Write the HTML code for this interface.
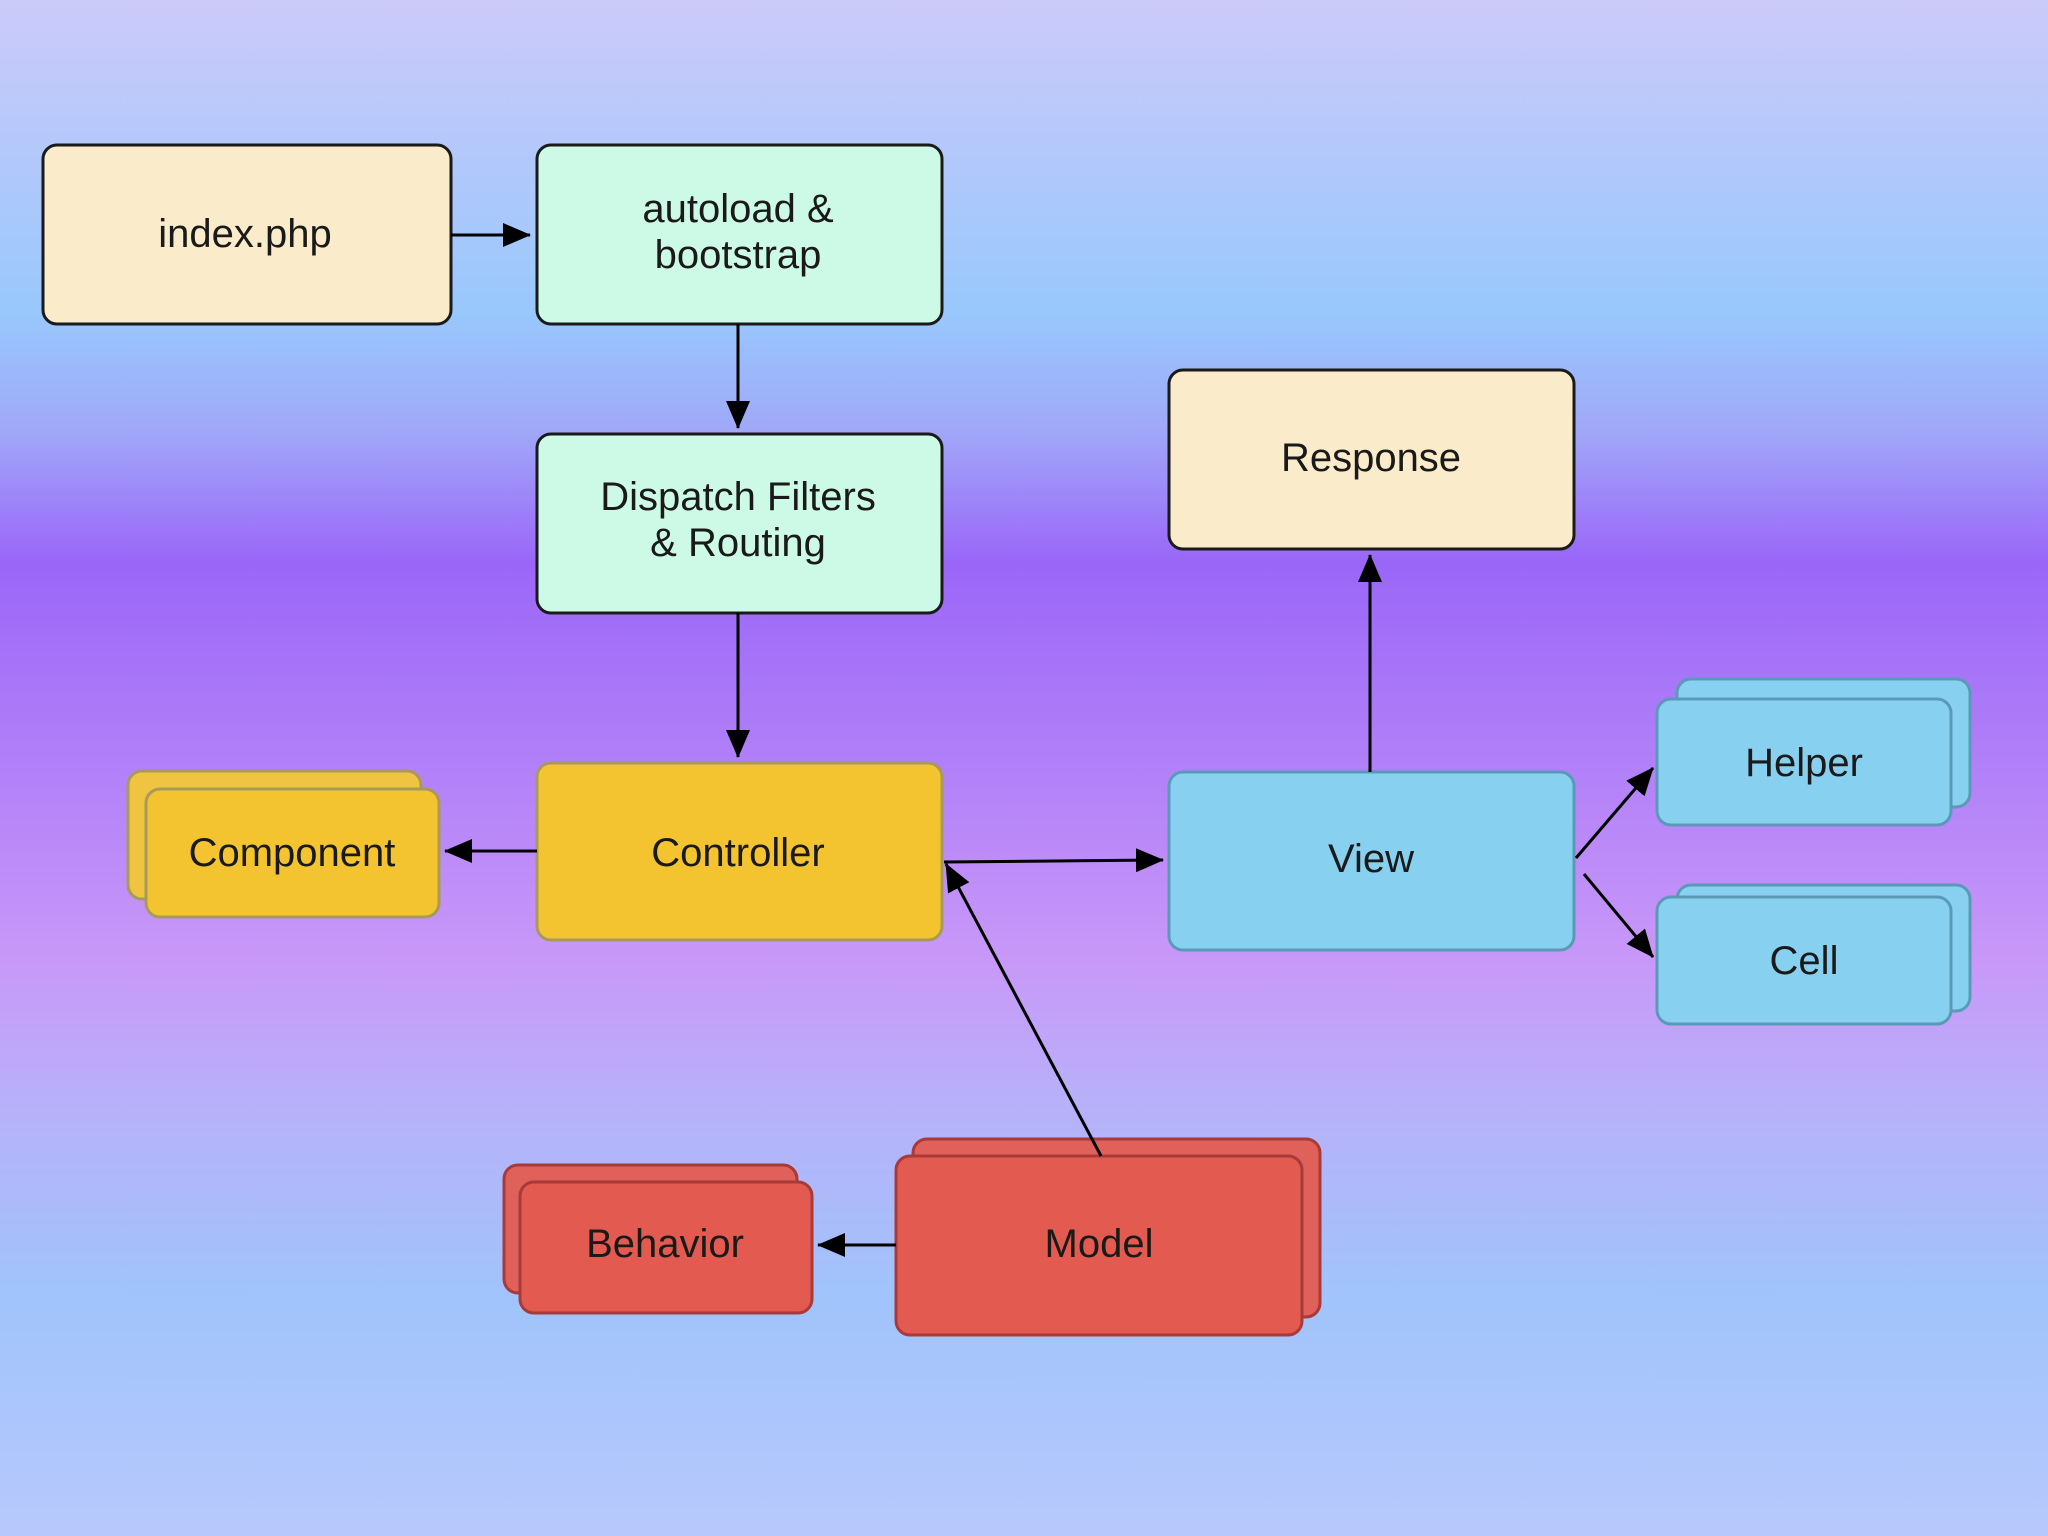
<!DOCTYPE html>
<html><head><style>
html,body{margin:0;padding:0;}
body{width:2048px;height:1536px;overflow:hidden;background:linear-gradient(to bottom,#cccaf9 0px,#b4c8fb 150px,#98c8fc 313px,#a0a8f8 430px,#9a66f8 562px,#aa78f8 700px,#c898f8 960px,#b8b0f9 1100px,#a0c4fb 1300px,#b8c8fc 1536px);}
svg{position:absolute;left:0;top:0;}
text{font-family:"Liberation Sans",sans-serif;font-size:40px;text-anchor:middle;fill:#1a1a1a;}
</style></head><body>
<svg width="2048" height="1536" viewBox="0 0 2048 1536">
<defs><marker id="a" markerWidth="10" markerHeight="10" refX="9" refY="5" orient="auto" markerUnits="userSpaceOnUse" viewBox="0 0 10 10"><path d="M0,0 L10,5 L0,10 z" fill="#000"/></marker>
<marker id="b" markerWidth="28" markerHeight="24" refX="27" refY="12" orient="auto" markerUnits="userSpaceOnUse"><path d="M0,0 L28,12 L0,24 z" fill="#000"/></marker></defs>
<g stroke-width="3">
<rect x="43" y="145" width="408" height="179" rx="14" fill="#faecca" stroke="#1a1a1a"/>
<rect x="537" y="145" width="405" height="179" rx="14" fill="#cdfae6" stroke="#1a1a1a"/>
<rect x="537" y="434" width="405" height="179" rx="14" fill="#cdfae6" stroke="#1a1a1a"/>
<rect x="1169" y="370" width="405" height="179" rx="14" fill="#faecca" stroke="#1a1a1a"/>
<rect x="537" y="763" width="405" height="177" rx="14" fill="#f4c430" stroke="#a89a5a"/>
<rect x="128" y="771" width="293" height="128" rx="14" fill="#f0c440" stroke="#a89a5a"/>
<rect x="146" y="789" width="293" height="128" rx="14" fill="#f4c430" stroke="#a89a5a"/>
<rect x="1169" y="772" width="405" height="178" rx="14" fill="#88d0f0" stroke="#5a9ab8"/>
<rect x="1677" y="679" width="293" height="128" rx="14" fill="#88d0f0" stroke="#5a9ab8"/>
<rect x="1657" y="699" width="294" height="126" rx="14" fill="#88d0f0" stroke="#5a9ab8"/>
<rect x="1677" y="885" width="293" height="126" rx="14" fill="#88d0f0" stroke="#5a9ab8"/>
<rect x="1657" y="897" width="294" height="127" rx="14" fill="#88d0f0" stroke="#5a9ab8"/>
<rect x="913" y="1139" width="407" height="178" rx="14" fill="#e0605a" stroke="#a83a38"/>
<rect x="896" y="1156" width="406" height="179" rx="14" fill="#e25a50" stroke="#a83a38"/>
<rect x="504" y="1165" width="293" height="128" rx="14" fill="#e0605a" stroke="#a83a38"/>
<rect x="520" y="1182" width="292" height="131" rx="14" fill="#e25a50" stroke="#a83a38"/>
</g>
<g stroke="#000" stroke-width="3" fill="none">
<line x1="451" y1="235" x2="530" y2="235" marker-end="url(#b)"/>
<line x1="738" y1="324" x2="738" y2="428" marker-end="url(#b)"/>
<line x1="738" y1="613" x2="738" y2="757" marker-end="url(#b)"/>
<line x1="537" y1="851" x2="445" y2="851" marker-end="url(#b)"/>
<line x1="944" y1="862" x2="1163" y2="860" marker-end="url(#b)"/>
<line x1="1101" y1="1156" x2="946" y2="864" marker-end="url(#b)"/>
<line x1="1370" y1="772" x2="1370" y2="555" marker-end="url(#b)"/>
<line x1="1576" y1="858" x2="1653" y2="768" marker-end="url(#b)"/>
<line x1="1584" y1="874" x2="1653" y2="957" marker-end="url(#b)"/>
<line x1="896" y1="1245" x2="818" y2="1245" marker-end="url(#b)"/>
</g>
<text x="245" y="247">index.php</text>
<text x="738" y="222">autoload &amp;</text>
<text x="738" y="268">bootstrap</text>
<text x="738" y="510">Dispatch Filters</text>
<text x="738" y="556">&amp; Routing</text>
<text x="1371" y="471">Response</text>
<text x="738" y="866">Controller</text>
<text x="292" y="866">Component</text>
<text x="1371" y="872">View</text>
<text x="1804" y="776">Helper</text>
<text x="1804" y="974">Cell</text>
<text x="1099" y="1257">Model</text>
<text x="665" y="1257">Behavior</text>
</svg>
</body></html>
